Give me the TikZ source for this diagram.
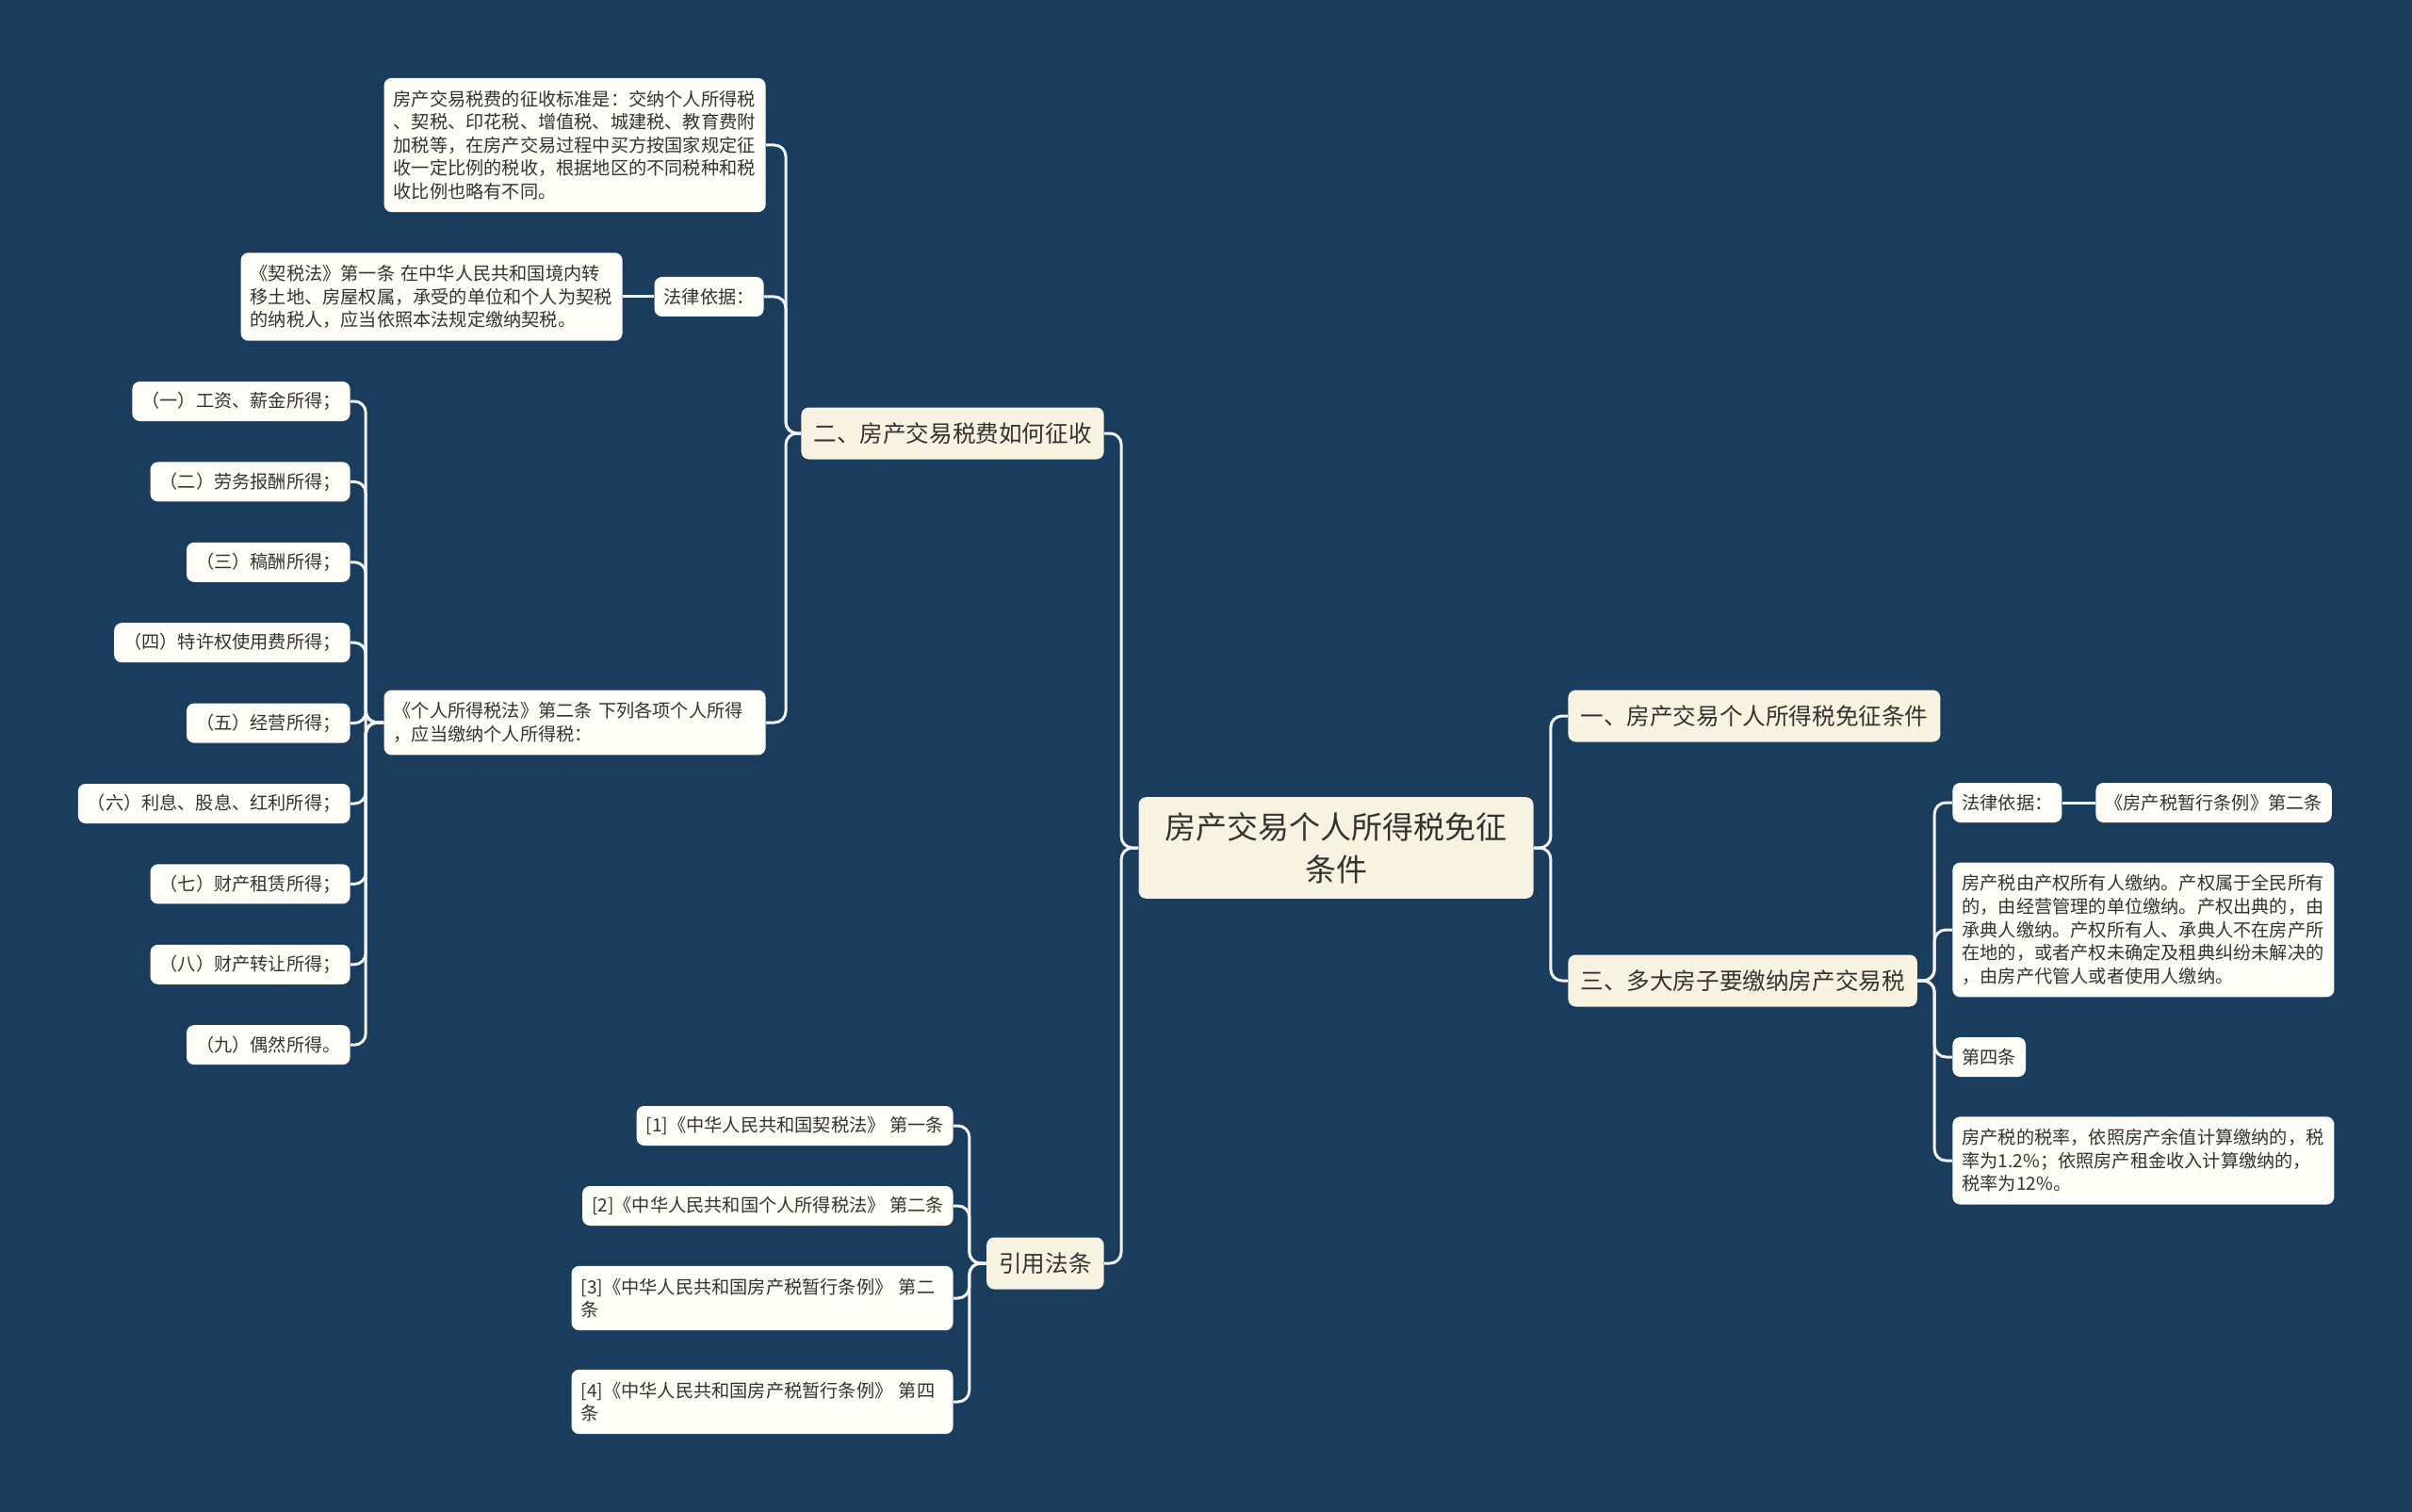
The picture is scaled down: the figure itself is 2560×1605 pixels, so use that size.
\documentclass[tikz,border=0pt]{standalone}
\usepackage{fontspec}
\setmainfont{Noto Sans CJK SC}
\usetikzlibrary{positioning}
\definecolor{bg}{HTML}{1A3D5E}
\definecolor{cream}{HTML}{F8F3E0}
\definecolor{paper}{HTML}{FEFDF7}
\definecolor{ink}{HTML}{333333}
\definecolor{wire}{HTML}{F2F2F2}

\begin{document}
\begin{tikzpicture}[x=0.5pt,y=-0.5pt,
    root/.style={fill=cream, rounded corners=4pt, text=ink, font=\fontsize{16.5}{22.5}\selectfont, align=center, inner xsep=14pt, inner ysep=8pt},
    topic/.style={fill=cream, rounded corners=4pt, text=ink, font=\fontsize{12.3}{15}\selectfont, inner xsep=6.5pt, minimum height=27.5pt},
    leaf/.style={fill=paper, rounded corners=4pt, text=ink, font=\fontsize{9.6}{12.3}\selectfont, align=left, inner xsep=5pt, inner ysep=5pt, minimum height=21pt},
    wide/.style={leaf, text width=192.5pt, inner ysep=6.5pt},
    link/.style={draw=wire, line width=1.5pt, rounded corners=6pt}]

    \fill[bg] (0,0) rectangle (2560,1605);

    \node[root] (root) at (1418,900) {房产交易个人所得税免征\\条件};

    \node[topic, anchor=east] (tax) at (1172,460) {二、房产交易税费如何征收};
    \node[topic, anchor=east] (cite) at (1172,1341) {引用法条};
    \node[topic, anchor=west] (free) at (1664,760) {一、房产交易个人所得税免征条件};
    \node[topic, anchor=west] (big) at (1664,1041) {三、多大房子要缴纳房产交易税};

    \node[wide, anchor=east] (std) at (813,154) {房产交易税费的征收标准是：交纳个人所得税\\、契税、印花税、增值税、城建税、教育费附\\加税等，在房产交易过程中买方按国家规定征\\收一定比例的税收，根据地区的不同税种和税\\收比例也略有不同。};
    \node[leaf, anchor=east] (basisL) at (811,315) {法律依据：};
    \node[wide, anchor=east] (deed) at (661,315) {《契税法》第一条 在中华人民共和国境内转\\移土地、房屋权属，承受的单位和个人为契税\\的纳税人，应当依照本法规定缴纳契税。};
    \node[wide, anchor=east] (iit) at (813,767) {《个人所得税法》第二条 下列各项个人所得\\，应当缴纳个人所得税：};

    \foreach \t [count=\i] in {（一）工资、薪金所得；, （二）劳务报酬所得；, （三）稿酬所得；, （四）特许权使用费所得；, （五）经营所得；, （六）利息、股息、红利所得；, （七）财产租赁所得；, （八）财产转让所得；, （九）偶然所得。}
        \node[leaf, anchor=east] (item\i) at (372,{426+85.4*(\i-1)}) {\t};

    \node[leaf, anchor=east] (ref1) at (1012,1195) {[1]《中华人民共和国契税法》 第一条};
    \node[leaf, anchor=east] (ref2) at (1012,1280) {[2]《中华人民共和国个人所得税法》 第二条};
    \node[wide, anchor=east] (ref3) at (1012,1378) {[3]《中华人民共和国房产税暂行条例》 第二\\条};
    \node[wide, anchor=east] (ref4) at (1012,1488) {[4]《中华人民共和国房产税暂行条例》 第四\\条};

    \node[leaf, anchor=west] (basisR) at (2072,852) {法律依据：};
    \node[leaf, anchor=west] (reg) at (2224,852) {《房产税暂行条例》第二条};
    \node[wide, anchor=west] (payer) at (2072,987) {房产税由产权所有人缴纳。产权属于全民所有\\的，由经营管理的单位缴纳。产权出典的，由\\承典人缴纳。产权所有人、承典人不在房产所\\在地的，或者产权未确定及租典纠纷未解决的\\，由房产代管人或者使用人缴纳。};
    \node[leaf, anchor=west] (art4) at (2072,1122) {第四条};
    \node[wide, anchor=west] (rate) at (2072,1232) {房产税的税率，依照房产余值计算缴纳的，税\\率为1.2\%；依照房产租金收入计算缴纳的，\\税率为12\%。};

    \foreach \c in {tax,cite}
        \draw[link] (root.west) -- ++(-18,0) |- (\c.east);
    \foreach \c in {free,big}
        \draw[link] (root.east) -- ++(18,0) |- (\c.west);
    \foreach \c in {std,basisL,iit}
        \draw[link] (tax.west) -- ++(-16,0) |- (\c.east);
    \draw[link] (basisL.west) -- (deed.east);
    \foreach \i in {1,...,9}
        \draw[link] (iit.west) -- ++(-19,0) |- (item\i.east);
    \foreach \c in {ref1,ref2,ref3,ref4}
        \draw[link] (cite.west) -- ++(-18,0) |- (\c.east);
    \foreach \c in {basisR,payer,art4,rate}
        \draw[link] (big.east) -- ++(18,0) |- (\c.west);
    \draw[link] (basisR.east) -- (reg.west);
\end{tikzpicture}
\end{document}
